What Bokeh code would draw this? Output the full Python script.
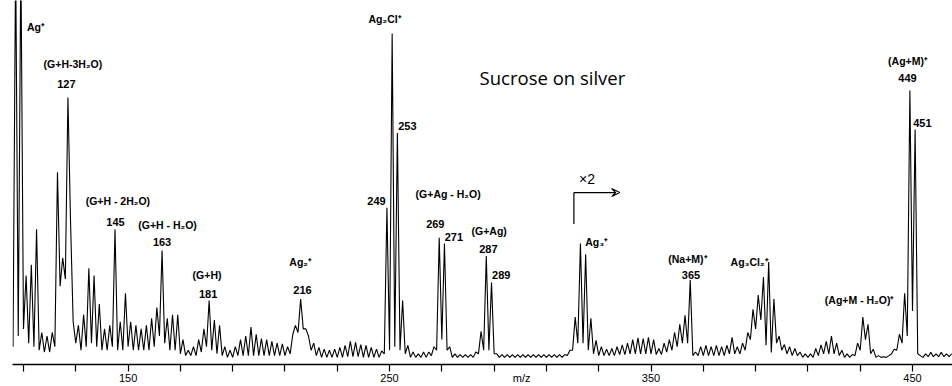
from bokeh.plotting import figure
from bokeh.models import Range1d, FixedTicker, ColumnDataSource, Label, Arrow, VeeHead
from bokeh.embed import file_html
from bokeh.resources import INLINE
from bokeh.core.properties import value

# ---------------- data: relative intensity at each integer m/z (106 ... 465) -------------
int_106_165 = [5, 115, 8, 115, 10, 25, 6, 28, 5, 38,
               4, 9, 3.5, 8, 3.5, 9, 5, 54, 22, 30,
               24, 75, 40, 12, 6, 11, 4, 14, 5, 27,
               6, 25, 5, 17, 4, 10, 4, 11, 5, 38,
               4, 12, 4, 20, 5, 12, 4, 11, 4, 10,
               4, 11, 4, 13, 5, 16, 8, 32, 6, 13]
int_166_225 = [4, 14, 4, 14, 3, 7, 2.5, 4, 2.5, 5,
               2.5, 7, 3.5, 10, 5, 18, 4, 12.5, 3, 11,
               2.5, 5, 2, 4, 2, 5, 2.5, 7, 2.5, 8,
               2.5, 10.5, 2.5, 8.5, 2.5, 7.3, 2.5, 7, 2.5, 6.5,
               2.5, 6, 2.5, 5.8, 2.5, 5, 3, 8.5, 11, 9,
               18.4, 10, 10, 8, 4, 6, 2.5, 4.8, 2, 4.3]
int_226_285 = [2, 4, 2, 4.3, 2, 4.8, 2, 5.4, 2.2, 6.5,
               2.2, 6.2, 2.2, 5.6, 2, 5.4, 2, 4.8, 2, 4.3,
               2, 3.8, 3, 44, 4, 93, 5, 65, 4, 18,
               3, 5.4, 2, 3.5, 2, 3, 2, 3.5, 2, 3.5,
               2.5, 5, 4, 35.6, 7, 34, 4, 5, 2, 3,
               2, 2.8, 2, 2.8, 2, 2.8, 2, 3.5, 3, 9.3]
int_286_345 = [4, 30.5, 4, 23, 3, 3, 2, 2.8, 2, 2.8,
               2, 2.8, 2, 2.8, 2, 2.8, 2, 2.8, 2, 2.8,
               2, 2.8, 2, 2.8, 2, 2.8, 2, 2.8, 2, 2.8,
               2, 2.8, 2.5, 4, 4, 13.3, 6, 34, 6, 31,
               4, 13, 3, 6.8, 2.5, 5, 2.5, 4.3, 2.5, 4.5,
               2.5, 5, 2.8, 5.5, 2.8, 6, 3, 7, 3, 7.5]
int_346_405 = [3, 7.3, 3, 7.6, 3, 7, 2.8, 4.5, 2.8, 6,
               3.5, 7, 4, 9, 5, 11.3, 6, 13.8, 6, 23.7,
               2.5, 3.5, 2.5, 5, 2.5, 5.4, 2.5, 5, 2.5, 5.4,
               2.5, 5, 2.5, 5.4, 3, 7.6, 3, 5, 3, 6,
               4, 9, 7, 15.5, 10, 19.5, 12.5, 24.6, 5.4, 28.8,
               3.4, 18.4, 6, 8, 4, 5.6, 3, 5, 2.5, 4.5]
int_406_465 = [2.5, 3.5, 2, 3, 2, 3, 2, 4.5, 2.5, 5.5,
               3, 6.5, 3, 8, 3, 6, 2.5, 4, 2, 3,
               2, 2.8, 2.5, 6, 4, 13.3, 7, 11.3, 3, 4.3,
               2, 2.5, 2, 2.2, 2, 2.5, 3, 4.3, 4, 8.5,
               6, 20, 8, 77, 15, 66, 3, 2.5, 2, 3,
               2.2, 3.4, 2.2, 3, 2.2, 3.4, 2.2, 3, 2.2, 3]

mz_first = 106
intensity = int_106_165 + int_166_225 + int_226_285 + int_286_345 + int_346_405 + int_406_465
mz = list(range(mz_first, mz_first + len(intensity)))

tick_positions = [110, 130, 150, 170, 190, 210, 230, 250, 270, 290,
                  310, 330, 350, 370, 390, 410, 430, 450]
tick_labels = {150: "150", 250: "250", 350: "350", 450: "450"}
axis_title = "m/z"
axis_title_pos = 300.5

# peak annotations: text, m/z of the peak it names
bold_texts = ["127", "145", "163", "181", "216", "249", "253", "269", "271",
              "287", "289", "365", "449", "451"]
bold_peaks = [127, 145, 163, 181, 216, 249, 253, 269, 271, 287, 289, 365, 449, 451]
ion_texts = ["Ag⁺", "(G+H-3H₂O)", "(G+H - 2H₂O)", "(G+H - H₂O)", "(G+H)", "Ag₂⁺",
             "Ag₂Cl⁺", "(G+Ag - H₂O)", "(G+Ag)", "Ag₃⁺", "(Na+M)⁺", "Ag₃Cl₂⁺",
             "(Ag+M - H₂O)⁺", "(Ag+M)⁺"]
ion_peaks = [109, 127, 145, 163, 181, 216, 251, 269, 287, 323, 365, 395, 431, 449]

# ---------------- layout of the annotations (offsets in m/z, levels in intensity) ----------
bold_dx = [-0.6, 0.2, 0, -0.4, 0.7, -4.0, 3.8, -1.5, 3.6, 0.8, 3.7, 0.3, -0.9, 2.8]
bold_y = [78.8, 40.1, 34.5, 19.8, 20.9, 45.8, 66.9, 39.5, 35.9, 32.5, 25.1, 25.1, 80.5, 67.8]
ion_dx = [2.3, 1.9, 1.1, 2.1, -0.8, 0, -2.7, 3.4, 1.1, 6.2, -0.9, -7.3, -1.2, -0.7]
ion_y = [94.9, 84.5, 45.8, 39.3, 25.1, 28.8, 97.2, 48.0, 37.6, 34.5, 29.7, 28.8, 18.1, 85.3]
ion_align = ["left"] + ["center"] * 13

p = figure(width=952, height=386, output_backend="svg", toolbar_location=None,
           x_range=Range1d(105.8, 465.3), y_range=Range1d(0, 102.26),
           y_axis_location=None,
           min_border_left=12, min_border_right=0, min_border_top=0, min_border_bottom=0)
p.outline_line_color = None
p.grid.visible = False
p.background_fill_color = "white"
p.border_fill_color = "white"

p.line(mz, intensity, line_color="black", line_width=1.1)

ax = p.xaxis[0]
label_ticks = sorted(list(tick_labels.keys()) + [axis_title_pos])
overrides = dict(tick_labels)
overrides[axis_title_pos] = axis_title
ax.ticker = FixedTicker(ticks=label_ticks, minor_ticks=tick_positions)
ax.major_label_overrides = overrides
ax.major_tick_in = 0
ax.major_tick_out = 0
ax.minor_tick_in = 0
ax.minor_tick_out = 7
ax.axis_line_width = 1.3
ax.minor_tick_line_width = 1.2
ax.major_label_standoff = 0
ax.major_label_text_font = "Liberation Sans"
ax.major_label_text_font_size = "11px"
ax.major_label_text_color = "black"

bsrc = ColumnDataSource(dict(x=[m + d for m, d in zip(bold_peaks, bold_dx)], y=bold_y, t=bold_texts))
p.text(x="x", y="y", text="t", source=bsrc, text_align="center", text_baseline="middle",
       text_font=value("Liberation Sans"), text_font_style="bold", text_font_size="11px",
       text_color="black")

isrc = ColumnDataSource(dict(x=[m + d for m, d in zip(ion_peaks, ion_dx)], y=ion_y, t=ion_texts, a=ion_align))
p.text(x="x", y="y", text="t", source=isrc, text_align="a", text_baseline="middle",
       text_font=value("Liberation Sans"), text_font_style="bold", text_font_size="10.5px",
       text_color="black")

p.add_layout(Label(x=312.3, y=80.5, text="Sucrose on silver", text_align="center",
                   text_baseline="middle", text_font="Open Sans", text_font_size="18.5px",
                   text_color="black"))

# x2 marker
x2_start, x2_end, x2_low, x2_high = 320.5, 338.0, 39.5, 48.3
p.segment(x0=[x2_start], y0=[x2_low], x1=[x2_start], y1=[x2_high], line_color="black", line_width=1.2)
p.add_layout(Arrow(end=VeeHead(size=8, line_color="black", line_width=1.2, fill_color=None),
                   x_start=x2_start, y_start=x2_high, x_end=x2_end, y_end=x2_high,
                   line_color="black", line_width=1.2))
p.add_layout(Label(x=325.5, y=52, text="×2", text_align="center", text_baseline="middle",
                   text_font="Liberation Sans", text_font_size="14px", text_color="black"))

open("out.html", "w").write(file_html(p, INLINE))
